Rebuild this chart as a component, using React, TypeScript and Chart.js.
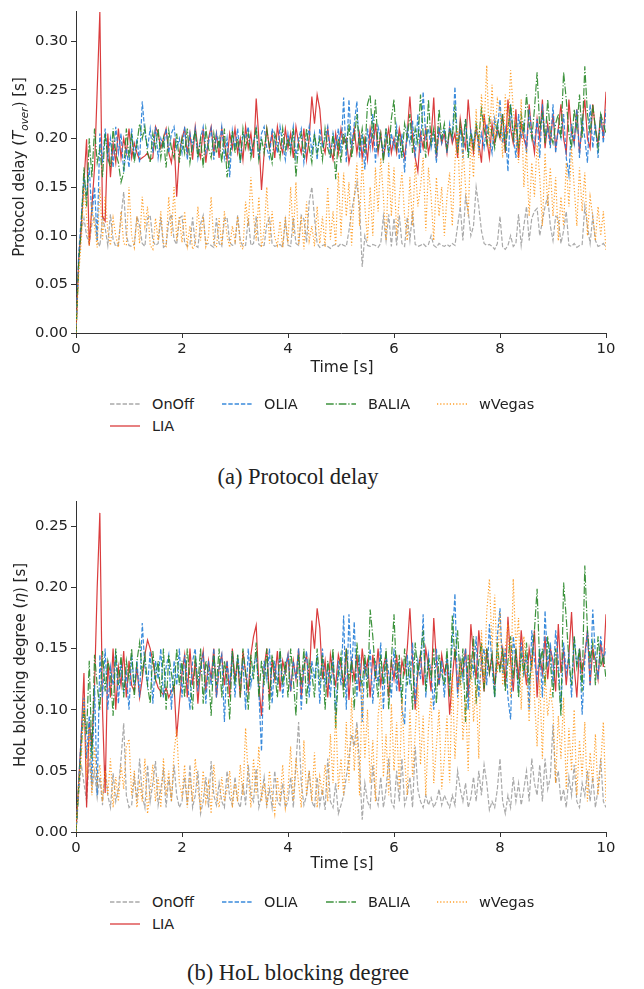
import React, { useEffect, useRef } from 'react';
import { Chart, registerables } from 'chart.js';
Chart.register(...registerables);

// sample times (s), one sample every 0.05 s from 0 to 10
const times: number[] = Array.from({ length: 201 }, (_, i) => Math.round(i * 5) / 100);

const xTicks = [0, 2, 4, 6, 8, 10];
const delayTicks = [0, 0.05, 0.1, 0.15, 0.2, 0.25, 0.3];
const holTicks = [0, 0.05, 0.1, 0.15, 0.2, 0.25];

// ---------- (a) Protocol delay, values in ms ----------
const delayOnOff = [
  0, 70, 105, 118, 100, 92, 112, 120, 95, 89, 118, 108, 90, 122, 96, 89, 91, 120, 145, 100,
  90, 89, 91, 120, 110, 92, 89, 118, 121, 95, 90, 92, 119, 88, 90, 115, 122, 96, 91, 118,
  120, 93, 89, 91, 119, 90, 88, 112, 121, 91, 92, 90, 88, 118, 92, 89, 117, 119, 93, 90,
  91, 121, 95, 89, 90, 118, 90, 92, 120, 91, 89, 90, 112, 118, 92, 89, 90, 91, 88, 116,
  90, 89, 118, 92, 90, 121, 117, 93, 135, 150, 119, 92, 88, 90, 91, 89, 87, 90, 91, 89,
  92, 90, 89, 105, 125, 140, 155, 130, 68, 100, 90, 89, 91, 90, 88, 92, 120, 95, 122, 89,
  118, 90, 121, 92, 89, 119, 95, 125, 91, 89, 90, 92, 89, 91, 100, 90, 88, 92, 90, 89,
  91, 89, 92, 90, 110, 130, 95, 140, 125, 100, 110, 150, 130, 105, 92, 90, 91, 89, 86, 92,
  120, 88, 86, 90, 100, 89, 92, 122, 90, 110, 130, 95, 118, 125, 128, 100, 115, 130, 140, 110,
  95, 120, 118, 92, 105, 125, 90, 89, 92, 88, 90, 91, 130, 110, 92, 120, 95, 89, 90, 92,
  88,
];
const delayLIA = [
  0, 75, 110, 155, 199, 90, 130, 170, 250, 330, 120, 115, 205, 160, 195, 175, 210, 180, 200, 185,
  210, 180, 195, 185, 178, 180, 182, 185, 178, 180, 212, 205, 190, 200, 210, 185, 175, 200, 140, 185,
  200, 210, 185, 205, 178, 212, 190, 180, 210, 175, 200, 212, 185, 205, 180, 210, 195, 178, 205, 190,
  210, 185, 200, 178, 212, 190, 205, 180, 241, 200, 147, 185, 210, 190, 205, 180, 212, 195, 185, 210,
  190, 205, 180, 212, 195, 185, 210, 178, 200, 243, 215, 245, 230, 195, 185, 210, 190, 178, 205, 185,
  210, 195, 200, 175, 190, 210, 185, 205, 180, 200, 178, 210, 190, 215, 185, 205, 180, 195, 210, 185,
  200, 185, 210, 195, 180, 205, 243, 200, 180, 166, 205, 190, 210, 185, 200, 242, 180, 210, 195, 205,
  185, 210, 195, 205, 180, 220, 200, 190, 240, 205, 185, 210, 195, 175, 225, 200, 180, 215, 195, 210,
  200, 225, 185, 240, 210, 195, 230, 180, 215, 200, 190, 235, 205, 185, 220, 200, 240, 190, 215, 195,
  225, 190, 210, 235, 200, 185, 240, 205, 195, 230, 185, 215, 240, 200, 190, 235, 210, 195, 225, 200,
  248,
];
const delayOLIA = [
  0, 80, 120, 160, 140, 170, 120, 150, 95, 205, 175, 210, 180, 200, 170, 212, 185, 205, 165, 190,
  170, 210, 180, 200, 175, 238, 205, 190, 210, 185, 212, 180, 200, 190, 210, 185, 205, 212, 190, 200,
  185, 212, 178, 205, 190, 210, 180, 200, 212, 185, 195, 210, 178, 205, 190, 212, 180, 200, 160, 208,
  190, 210, 175, 205, 200, 212, 185, 195, 210, 178, 205, 212, 190, 180, 210, 200, 185, 212, 195, 178,
  205, 190, 212, 180, 200, 210, 175, 195, 212, 185, 205, 178, 210, 190, 200, 212, 180, 205, 190, 210,
  185, 242, 175, 240, 190, 215, 238, 180, 205, 168, 210, 190, 225, 175, 212, 200, 185, 210, 180, 205,
  190, 212, 178, 205, 165, 210, 195, 218, 180, 225, 185, 248, 200, 210, 190, 205, 175, 212, 195, 210,
  185, 215, 200, 253, 190, 210, 180, 220, 185, 208, 195, 212, 188, 205, 190, 215, 200, 185, 220, 205,
  240, 195, 210, 166, 235, 205, 180, 225, 200, 215, 185, 230, 205, 195, 220, 180, 235, 200, 210, 190,
  235, 185, 210, 200, 225, 180, 162, 215, 195, 230, 180, 220, 200, 175, 235, 190, 215, 180, 225, 195,
  230,
];
const delayBALIA = [
  0, 70, 110, 170, 130, 200, 160, 210, 175, 190, 160, 205, 180, 170, 210, 185, 175, 155, 165, 210,
  180, 205, 175, 195, 215, 200, 212, 185, 175, 205, 190, 210, 180, 200, 170, 208, 190, 180, 205, 175,
  200, 185, 210, 175, 195, 208, 180, 200, 170, 210, 190, 180, 205, 185, 200, 175, 210, 160, 180, 208,
  185, 200, 175, 210, 190, 205, 180, 195, 212, 178, 200, 185, 210, 190, 175, 205, 195, 180, 210, 188,
  200, 185, 210, 160, 195, 205, 180, 210, 190, 175, 205, 185, 200, 178, 210, 190, 180, 205, 158, 200,
  175, 205, 190, 215, 180, 200, 225, 190, 210, 185, 235, 245, 200, 240, 190, 205, 175, 210, 185, 220,
  240, 190, 205, 180, 215, 200, 225, 185, 210, 195, 245, 205, 180, 240, 195, 210, 185, 230, 200, 215,
  190, 210, 200, 235, 185, 215, 195, 220, 180, 205, 190, 215, 200, 230, 210, 195, 220, 205, 190, 215,
  200, 225, 190, 210, 235, 200, 215, 190, 225, 205, 245, 215, 200, 230, 268, 210, 225, 195, 240, 205,
  195, 215, 225, 200, 268, 240, 205, 190, 230, 210, 245, 200, 274, 225, 205, 235, 210, 190, 225, 215,
  205,
];
const delayWVegas = [
  0, 60, 95, 150, 120, 90, 130, 110, 88, 150, 95, 140, 105, 90, 118, 100, 88, 125, 92, 90,
  150, 100, 88, 120, 92, 140, 110, 130, 90, 86, 118, 95, 125, 92, 89, 140, 100, 150, 95, 120,
  93, 125, 90, 110, 86, 92, 130, 95, 120, 89, 100, 140, 92, 88, 118, 90, 125, 100, 88, 110,
  95, 120, 90, 86, 135, 110, 160, 120, 95, 140, 88, 105, 150, 92, 125, 98, 90, 115, 88, 120,
  92, 150, 100, 155, 90, 120, 86, 135, 95, 110, 89, 130, 92, 120, 88, 150, 96, 125, 90, 165,
  100, 165, 120, 155, 90, 140, 175, 110, 180, 130, 95, 150, 100, 170, 125, 180, 140, 95, 175, 120,
  170, 100, 140, 165, 120, 95, 160, 110, 175, 130, 150, 180, 105, 170, 140, 95, 160, 120, 150, 100,
  140, 165, 110, 175, 210, 130, 190, 150, 120, 200, 160, 230, 180, 245, 210, 275, 190, 255, 200, 240,
  230, 180, 245, 205, 270, 230, 200, 175, 240, 150, 190, 120, 175, 140, 195, 160, 110, 185, 130, 170,
  120, 160, 95, 140, 110, 175, 130, 190, 150, 110, 170, 125, 165, 100, 140, 120, 95, 130, 100, 125,
  85,
];

// ---------- (b) HoL blocking degree, values in ms ----------
const holOnOff = [
  0, 30, 55, 40, 25, 60, 35, 50, 28, 45, 22, 55, 30, 20, 48, 25, 35, 60, 89, 30,
  20, 22, 45, 25, 60, 30, 20, 55, 25, 40, 58, 22, 35, 50, 20, 45, 25, 55, 30, 20,
  25, 45, 22, 55, 20, 30, 50, 15, 25, 45, 20, 58, 30, 22, 40, 25, 20, 50, 28, 22,
  45, 25, 20, 40, 22, 55, 30, 25, 52, 20, 30, 45, 22, 35, 20, 50, 25, 22, 40, 20,
  25, 45, 20, 55, 90, 40, 22, 30, 50, 25, 20, 45, 22, 35, 18, 60, 25, 20, 40, 15,
  22, 30, 45, 60, 80, 70, 90, 55, 10, 40, 25, 20, 55, 30, 22, 45, 20, 35, 60, 25,
  20, 50, 25, 60, 22, 30, 45, 20, 70, 35, 25, 20, 30, 22, 28, 20, 25, 35, 22, 30,
  25, 20, 30, 22, 50, 35, 25, 40, 20, 28, 45, 25, 50, 30, 55, 40, 18, 25, 20, 35,
  60, 25, 15, 30, 20, 45, 25, 40, 22, 35, 50, 25, 60, 40, 30, 55, 25, 60, 35, 45,
  88, 40, 50, 25, 35, 20, 45, 30, 55, 25, 20, 40, 30, 50, 25, 45, 20, 35, 60, 25,
  20,
];
const holLIA = [
  0, 40, 80, 130, 20, 90, 70, 120, 200, 261, 100, 32, 140, 110, 150, 100, 135, 120, 148, 110,
  140, 120, 115, 135, 110, 125, 145, 157, 150, 140, 125, 118, 115, 112, 118, 110, 115, 120, 78, 105,
  130, 145, 110, 150, 120, 140, 105, 135, 148, 115, 140, 125, 150, 110, 135, 145, 120, 140, 110, 150,
  125, 140, 110, 148, 130, 115, 145, 160, 169, 120, 95, 135, 150, 110, 140, 125, 148, 115, 140, 130,
  145, 115, 140, 125, 150, 110, 135, 145, 120, 173, 150, 183, 167, 125, 140, 110, 145, 130, 120, 145,
  135, 120, 150, 108, 140, 125, 145, 115, 150, 130, 140, 110, 145, 125, 150, 120, 135, 145, 110, 140,
  125, 145, 115, 140, 130, 150, 183, 140, 100, 130, 145, 120, 150, 135, 115, 175, 140, 120, 145, 130,
  140, 96, 125, 150, 115, 140, 130, 150, 110, 170, 145, 125, 165, 140, 115, 150, 130, 145, 120, 140,
  135, 150, 120, 176, 140, 115, 150, 125, 165, 140, 120, 150, 135, 165, 110, 145, 130, 160, 125, 150,
  140, 115, 170, 130, 150, 120, 145, 180, 135, 110, 150, 130, 145, 165, 120, 150, 140, 125, 155, 135,
  178,
];
const holOLIA = [
  0, 40, 80, 110, 60, 95, 40, 120, 30, 145, 110, 150, 100, 135, 120, 148, 105, 140, 115, 130,
  100, 145, 120, 140, 110, 171, 135, 120, 148, 105, 140, 125, 150, 110, 135, 145, 100, 140, 120, 150,
  110, 145, 125, 100, 140, 150, 115, 135, 145, 105, 140, 120, 150, 110, 135, 145, 90, 140, 120, 148,
  110, 145, 125, 140, 100, 150, 120, 135, 145, 115, 66, 140, 125, 150, 105, 140, 120, 148, 110, 135,
  145, 115, 140, 125, 150, 100, 135, 148, 110, 140, 125, 145, 105, 150, 120, 135, 110, 145, 95, 140,
  120, 177, 100, 178, 130, 172, 110, 145, 90, 140, 125, 150, 105, 140, 120, 155, 100, 145, 130, 110,
  150, 115, 140, 100, 88, 145, 120, 155, 105, 140, 125, 178, 110, 145, 130, 100, 150, 120, 140, 110,
  145, 120, 155, 195, 110, 140, 125, 150, 100, 145, 130, 160, 110, 140, 150, 120, 170, 135, 110, 160,
  183, 130, 150, 110, 92, 160, 140, 115, 155, 130, 145, 100, 165, 140, 125, 150, 110, 181, 135, 155,
  120, 165, 140, 100, 155, 130, 145, 110, 160, 135, 150, 96, 140, 165, 120, 182, 145, 125, 160, 140,
  150,
];
const holBALIA = [
  0, 35, 70, 100, 80, 140, 60, 145, 120, 100, 148, 115, 140, 130, 95, 150, 120, 145, 110, 140,
  125, 150, 110, 140, 155, 130, 145, 120, 105, 148, 125, 140, 110, 150, 100, 145, 130, 115, 150, 120,
  140, 110, 150, 125, 100, 145, 120, 150, 105, 140, 130, 95, 145, 120, 150, 110, 140, 125, 92, 148,
  120, 145, 110, 150, 130, 100, 145, 125, 155, 110, 140, 120, 150, 100, 145, 130, 110, 150, 120, 140,
  110, 150, 125, 95, 145, 120, 150, 105, 140, 130, 110, 150, 120, 145, 100, 140, 125, 150, 85, 130,
  145, 110, 150, 125, 140, 100, 155, 130, 120, 145, 110, 182, 160, 130, 110, 145, 120, 150, 100, 140,
  178, 125, 145, 105, 150, 120, 140, 100, 155, 130, 145, 165, 115, 140, 125, 150, 105, 145, 130, 120,
  150, 110, 177, 140, 165, 120, 150, 90, 145, 125, 160, 105, 140, 155, 115, 150, 130, 145, 110, 155,
  130, 150, 115, 140, 160, 125, 150, 110, 145, 130, 155, 120, 140, 165, 199, 135, 150, 120, 160, 140,
  110, 150, 130, 95, 204, 175, 140, 120, 160, 135, 150, 115, 218, 165, 140, 155, 120, 160, 135, 145,
  125,
];
const holWVegas = [
  0, 40, 60, 110, 45, 85, 30, 70, 40, 55, 25, 50, 30, 60, 20, 45, 25, 55, 35, 70,
  76, 30, 50, 20, 40, 25, 60, 15, 35, 55, 25, 45, 20, 60, 30, 50, 25, 65, 84, 40,
  30, 55, 20, 45, 25, 60, 35, 20, 50, 25, 40, 15, 55, 30, 20, 45, 25, 35, 50, 20,
  40, 25, 55, 30, 85, 45, 20, 60, 30, 70, 25, 40, 20, 50, 30, 15, 45, 25, 55, 20,
  35, 70, 25, 60, 40, 20, 75, 30, 50, 25, 65, 20, 45, 30, 55, 25, 80, 40, 100, 35,
  60, 30, 90, 40, 110, 50, 85, 30, 120, 60, 100, 40, 75, 25, 95, 115, 45, 80, 30, 105,
  50, 90, 35, 110, 60, 30, 100, 45, 80, 120, 55, 95, 30, 85, 110, 40, 70, 100, 35, 60,
  95, 40, 130, 60, 100, 140, 75, 110, 50, 145, 90, 120, 60, 165, 120, 180, 207, 150, 194, 130,
  180, 120, 150, 170, 110, 207, 150, 175, 100, 160, 130, 90, 145, 110, 70, 125, 60, 130, 95, 115,
  100, 40, 95, 60, 110, 35, 85, 50, 100, 30, 75, 45, 90, 25, 65, 40, 80, 30, 55, 90,
  25,
];

const seriesNames = ['OnOff', 'LIA', 'OLIA', 'BALIA', 'wVegas'];
const seriesColors = ['rgba(160,160,160,0.9)', 'rgba(214,39,40,0.9)', 'rgba(35,125,215,0.9)', 'rgba(40,135,40,0.9)', 'rgba(255,150,20,0.9)'];
const seriesDash: number[][] = [[4.4, 1.9], [], [4.4, 1.9], [7.7, 1.9, 1.2, 1.9], [1.2, 2]];

const FONT = 'DejaVu Sans';
const FS = 14.8;

function buildChart(canvas: HTMLCanvasElement, series: number[][], yMax: number, yTicks: number[], padTop: number) {
  // matplotlib draw order (last on top); Chart.js draws dataset 0 on top, so reverse
  const datasets = series
    .map((vals, k) => ({
      label: seriesNames[k],
      data: times.map((t, i) => ({ x: t, y: vals[i] / 1000 })),
      borderColor: seriesColors[k],
      borderWidth: 1.2,
      borderDash: seriesDash[k],
      pointRadius: 0,
      tension: 0,
      fill: false,
    }))
    .reverse();
  return new Chart(canvas, {
    type: 'line',
    data: { datasets },
    options: {
      animation: false,
      responsive: false,
      maintainAspectRatio: false,
      layout: { padding: { left: 0, right: 38, top: padTop, bottom: 0 } },
      plugins: { legend: { display: false }, tooltip: { enabled: false } },
      scales: {
        x: {
          type: 'linear',
          min: 0,
          max: 10,
          afterBuildTicks: (s: any) => { s.ticks = xTicks.map((v) => ({ value: v })); },
          afterFit: (s: any) => { s.height = 47; },
          ticks: { font: { family: FONT, size: FS }, color: '#222', padding: 2, maxRotation: 0, callback: (v: any) => String(v) },
          grid: { drawOnChartArea: false, drawTicks: true, tickLength: 5, color: '#333', lineWidth: 1 },
          border: { display: true, color: '#333', width: 1 },
        },
        y: {
          type: 'linear',
          min: 0,
          max: yMax,
          afterBuildTicks: (s: any) => { s.ticks = yTicks.map((v) => ({ value: v })); },
          afterFit: (s: any) => { s.width = 76; },
          ticks: { font: { family: FONT, size: FS }, color: '#222', padding: 3, callback: (v: any) => Number(v).toFixed(2) },
          grid: { drawOnChartArea: false, drawTicks: true, tickLength: 5, color: '#333', lineWidth: 1 },
          border: { display: true, color: '#333', width: 1 },
        },
      },
    },
  });
}

const legendCols = [
  { name: 'OnOff', idx: 0, x: 110, row: 0 },
  { name: 'OLIA', idx: 2, x: 222, row: 0 },
  { name: 'BALIA', idx: 3, x: 326, row: 0 },
  { name: 'wVegas', idx: 4, x: 437, row: 0 },
  { name: 'LIA', idx: 1, x: 110, row: 1 },
];

function Legend({ top }: { top: number }) {
  return (
    <>
      {legendCols.map((c) => (
        <div key={c.name} style={{ position: 'absolute', left: c.x, top: top + c.row * 22 - 10, height: 20, display: 'flex', alignItems: 'center' }}>
          <svg width={30} height={20} style={{ display: 'block' }}>
            <line x1={0} y1={10} x2={30} y2={10} stroke={seriesColors[c.idx]} strokeWidth={1.3} strokeDasharray={seriesDash[c.idx].length ? seriesDash[c.idx].join(' ') : undefined} />
          </svg>
          <span style={{ marginLeft: 12, fontFamily: FONT, fontSize: 14.5, color: '#222', whiteSpace: 'nowrap' }}>{c.name}</span>
        </div>
      ))}
    </>
  );
}

const centerText = (x: number, y: number, content: React.ReactNode, extra: React.CSSProperties = {}) => (
  <div style={{ position: 'absolute', left: x, top: y, transform: 'translate(-50%, -50%)', whiteSpace: 'nowrap', fontFamily: FONT, fontSize: 15.5, color: '#222', ...extra }}>{content}</div>
);

const rotText = (x: number, y: number, content: React.ReactNode) => (
  <div style={{ position: 'absolute', left: x, top: y, transform: 'translate(-50%, -50%) rotate(-90deg)', whiteSpace: 'nowrap', fontFamily: FONT, fontSize: 15, color: '#222' }}>{content}</div>
);

export default function App() {
  const topRef = useRef<HTMLCanvasElement>(null);
  const botRef = useRef<HTMLCanvasElement>(null);
  useEffect(() => {
    const c1 = buildChart(topRef.current!, [delayOnOff, delayLIA, delayOLIA, delayBALIA, delayWVegas], 0.33, delayTicks, 1);
    const c2 = buildChart(botRef.current!, [holOnOff, holLIA, holOLIA, holBALIA, holWVegas], 0.27, holTicks, 9);
    return () => { c1.destroy(); c2.destroy(); };
  }, []);
  return (
    <div style={{ position: 'absolute', left: 0, top: 0, width: 644, height: 989, background: '#fff', overflow: 'hidden' }}>
      <canvas ref={topRef} width={644} height={380} style={{ position: 'absolute', left: 0, top: 0, width: 644, height: 380 }} />
      <canvas ref={botRef} width={644} height={389} style={{ position: 'absolute', left: 0, top: 490, width: 644, height: 389 }} />
      {rotText(20, 167, <span>Protocol delay (<i>T</i><sub style={{ fontSize: '70%' }}><i>over</i></sub>) [s]</span>)}
      {rotText(20, 665, <span>HoL blocking degree (<i>η</i>) [s]</span>)}
      {centerText(342, 367, 'Time [s]')}
      {centerText(342, 863, 'Time [s]')}
      <Legend top={404} />
      <Legend top={902} />
      {centerText(298, 477, '(a) Protocol delay', { fontFamily: '"Liberation Serif", serif', fontSize: 22.5 })}
      {centerText(298, 973, '(b) HoL blocking degree', { fontFamily: '"Liberation Serif", serif', fontSize: 22.5 })}
    </div>
  );
}
